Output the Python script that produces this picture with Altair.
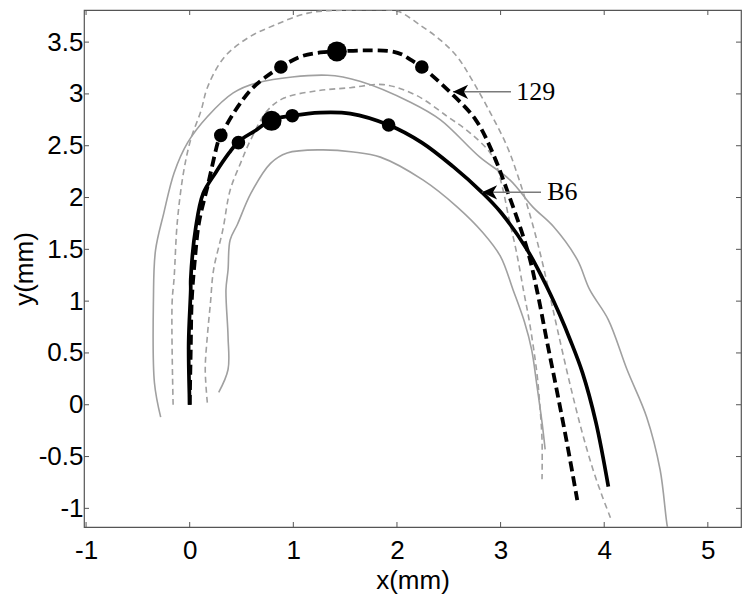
import altair as alt
import pandas as pd

# ---- data (mm) ----
m129_x = [0.00, 0.01, 0.02, 0.05, 0.09, 0.18, 0.28, 0.30, 0.44, 0.59, 0.73, 0.88, 1.07, 1.26, 1.43, 1.70, 1.95, 2.05, 2.13, 2.24, 2.51, 2.76, 2.92, 3.07, 3.26, 3.35, 3.45, 3.55, 3.65, 3.74]
m129_y = [0.00, 0.53, 1.01, 1.40, 1.76, 2.14, 2.56, 2.60, 2.84, 3.04, 3.16, 3.26, 3.36, 3.40, 3.41, 3.42, 3.41, 3.38, 3.33, 3.26, 3.02, 2.75, 2.44, 2.05, 1.49, 1.11, 0.60, 0.10, -0.42, -0.92]

b6_x = [0.00, -0.01, 0.01, 0.01, 0.06, 0.13, 0.25, 0.38, 0.47, 0.64, 0.79, 0.99, 1.26, 1.55, 1.92, 2.24, 2.54, 2.82, 3.00, 3.26, 3.46, 3.57, 3.67, 3.79, 3.92, 4.04]
b6_y = [0.00, 0.60, 1.11, 1.21, 1.72, 2.04, 2.24, 2.43, 2.54, 2.65, 2.75, 2.79, 2.82, 2.81, 2.70, 2.53, 2.30, 2.05, 1.86, 1.49, 1.11, 0.87, 0.63, 0.31, -0.17, -0.79]

b6_out_x = [-0.28, -0.34, -0.35, -0.33, -0.25, -0.15, -0.02, 0.17, 0.42, 0.66, 1.33, 1.65, 2.13, 2.42, 2.80, 3.09, 3.31, 3.51, 3.74, 3.86, 4.04, 4.22, 4.41, 4.54, 4.61, 4.63]
b6_out_y = [-0.12, 0.21, 1.01, 1.49, 1.85, 2.24, 2.53, 2.78, 3.01, 3.11, 3.18, 3.12, 2.92, 2.75, 2.39, 2.17, 1.91, 1.72, 1.40, 1.11, 0.82, 0.34, -0.12, -0.63, -1.18, -1.25]

b6_in_x = [0.28, 0.37, 0.37, 0.35, 0.37, 0.39, 0.46, 0.59, 0.78, 0.94, 1.26, 1.58, 1.84, 2.25, 2.58, 2.83, 3.00, 3.12, 3.23, 3.30, 3.35, 3.40, 3.43]
b6_in_y = [0.12, 0.34, 0.66, 1.11, 1.30, 1.59, 1.74, 2.04, 2.33, 2.43, 2.46, 2.44, 2.39, 2.17, 1.91, 1.66, 1.43, 1.11, 0.80, 0.53, 0.19, -0.17, -0.43]

m129_out_x = [-0.16, -0.17, -0.15, -0.12, -0.06, 0.01, 0.11, 0.17, 0.33, 0.56, 0.81, 1.14, 1.52, 1.94, 2.03, 2.23, 2.42, 2.58, 2.71, 2.90, 3.06, 3.17, 3.29, 3.39, 3.47, 3.55, 3.66, 3.78, 3.89, 3.98, 4.06]
m129_out_y = [0.00, 0.98, 1.23, 1.76, 2.24, 2.56, 2.84, 3.06, 3.35, 3.54, 3.66, 3.78, 3.81, 3.81, 3.79, 3.66, 3.52, 3.36, 3.16, 2.82, 2.50, 2.20, 1.81, 1.43, 1.08, 0.72, 0.24, -0.24, -0.62, -0.88, -1.09]

m129_in_x = [0.17, 0.15, 0.17, 0.20, 0.23, 0.32, 0.39, 0.49, 0.59, 0.75, 0.91, 1.23, 1.55, 1.87, 2.18, 2.49, 2.71, 2.92, 3.01, 3.08, 3.15, 3.22, 3.28, 3.35, 3.38, 3.40, 3.40]
m129_in_y = [0.02, 0.34, 0.66, 0.98, 1.30, 1.69, 2.07, 2.33, 2.56, 2.84, 2.96, 3.03, 3.06, 3.09, 2.99, 2.78, 2.62, 2.40, 2.13, 1.80, 1.49, 1.11, 0.79, 0.31, -0.02, -0.34, -0.72]

mk_small_x = [0.30, 0.88, 2.24, 0.47, 0.99, 1.92]
mk_small_y = [2.60, 3.26, 3.26, 2.53, 2.79, 2.70]
mk_big_x = [1.42, 0.79]
mk_big_y = [3.41, 2.74]

ann_text = ["129", "B6"]
ann_tip_x = [2.54, 2.82]
ann_tail_x = [3.10, 3.39]
ann_y = [3.02, 2.05]
ann_text_x = [3.15, 3.45]

x_ticks = [-1, 0, 1, 2, 3, 4, 5]
y_ticks = [-1, -0.5, 0, 0.5, 1, 1.5, 2, 2.5, 3, 3.5]
x_dom = [-1.02, 5.32]
y_dom = [-1.18, 3.81]

W, H = 657, 517


def curve(xs, ys, name):
    return pd.DataFrame({"x": xs, "y": ys, "i": list(range(len(xs))), "s": name})


xs = alt.Scale(domain=x_dom, nice=False, zero=False)
ys = alt.Scale(domain=y_dom, nice=False, zero=False)

x_axis = alt.Axis(values=x_ticks, grid=False, ticks=False, domain=False,
                  labelFont="Liberation Sans", labelFontSize=26, labelColor="black",
                  labelPadding=10, labelFlush=False, labelOverlap=False,
                  labelExpr="toString(datum.value)",
                  title="x(mm)", titleFont="Liberation Sans", titleFontSize=26,
                  titleFontWeight="normal", titleColor="black", titlePadding=4)
y_axis = alt.Axis(values=y_ticks, grid=False, ticks=False, domain=False,
                  labelFont="Liberation Sans", labelFontSize=26, labelColor="black",
                  labelPadding=1, labelFlush=False, labelOverlap=False,
                  labelExpr="toString(datum.value)",
                  title="y(mm)", titleFont="Liberation Sans", titleFontSize=26,
                  titleFontWeight="normal", titleColor="black", titlePadding=1)


def X(f="x"):
    return alt.X(f + ":Q", scale=xs, axis=x_axis)


def Y(f="y"):
    return alt.Y(f + ":Q", scale=ys, axis=y_axis)


gray = "#a0a0a0"
interp = "catmull-rom"

gray_dash = alt.Chart(pd.concat([curve(m129_out_x, m129_out_y, "o"), curve(m129_in_x, m129_in_y, "n")])).mark_line(
    color=gray, strokeWidth=1.6, strokeDash=[6, 4], clip=True, interpolate=interp).encode(
    x=X(), y=Y(), order="i:Q", detail="s:N")
gray_solid = alt.Chart(pd.concat([curve(b6_out_x, b6_out_y, "o"), curve(b6_in_x, b6_in_y, "n")])).mark_line(
    color=gray, strokeWidth=1.6, clip=True, interpolate=interp).encode(
    x=X(), y=Y(), order="i:Q", detail="s:N")
b6_line = alt.Chart(curve(b6_x, b6_y, "b6")).mark_line(
    color="black", strokeWidth=3.7, clip=True, interpolate=interp).encode(x=X(), y=Y(), order="i:Q")
m129_line = alt.Chart(curve(m129_x, m129_y, "129")).mark_line(
    color="black", strokeWidth=3.8, strokeDash=[10, 5], clip=True, interpolate=interp).encode(
    x=X(), y=Y(), order="i:Q")

small_pts = alt.Chart(pd.DataFrame({"x": mk_small_x, "y": mk_small_y})).mark_point(
    shape="circle", filled=True, color="black", opacity=1, size=185).encode(x=X(), y=Y())
big_pts = alt.Chart(pd.DataFrame({"x": mk_big_x, "y": mk_big_y})).mark_point(
    shape="circle", filled=True, color="black", opacity=1, size=400).encode(x=X(), y=Y())

ann = pd.DataFrame({"t": ann_text, "tip": ann_tip_x, "tail": ann_tail_x, "y": ann_y, "tx": ann_text_x})
ann_line = alt.Chart(ann).mark_rule(color="#7a7a7a", strokeWidth=1.5).encode(
    x=X("tip"), x2="tail:Q", y=Y())
ann_head = alt.Chart(ann).mark_point(
    shape="M0,0L2,-0.95L1.45,0L2,0.95Z", filled=True, color="black", opacity=1, size=230).encode(
    x=X("tip"), y=Y())
ann_txt = alt.Chart(ann).mark_text(
    font="Liberation Serif", fontSize=26, align="left", baseline="middle", color="black").encode(
    x=X("tx"), y=Y(), text="t:N")

tl = 5
frame_col = "#555555"
xt = pd.DataFrame({"v": x_ticks})
yt = pd.DataFrame({"v": y_ticks})
tick_b = alt.Chart(xt).mark_rule(color=frame_col, strokeWidth=1).encode(
    x=X("v"), y=alt.value(H), y2=alt.value(H - tl))
tick_t = alt.Chart(xt).mark_rule(color=frame_col, strokeWidth=1).encode(
    x=X("v"), y=alt.value(0), y2=alt.value(tl))
tick_l = alt.Chart(yt).mark_rule(color=frame_col, strokeWidth=1).encode(
    y=Y("v"), x=alt.value(0), x2=alt.value(tl))
tick_r = alt.Chart(yt).mark_rule(color=frame_col, strokeWidth=1).encode(
    y=Y("v"), x=alt.value(W), x2=alt.value(W - tl))

chart = alt.layer(
    gray_dash, gray_solid, b6_line, m129_line, small_pts, big_pts,
    ann_line, ann_head, ann_txt, tick_b, tick_t, tick_l, tick_r
).properties(
    width=W, height=H,
    autosize=alt.AutoSizeParams(type="none"),
    padding={"left": 76, "top": 2, "right": 2, "bottom": 70},
    background="white",
).configure_view(
    stroke=frame_col, strokeWidth=1.2
)

chart.save("out.html", embed_options={"renderer": "svg", "actions": False})
